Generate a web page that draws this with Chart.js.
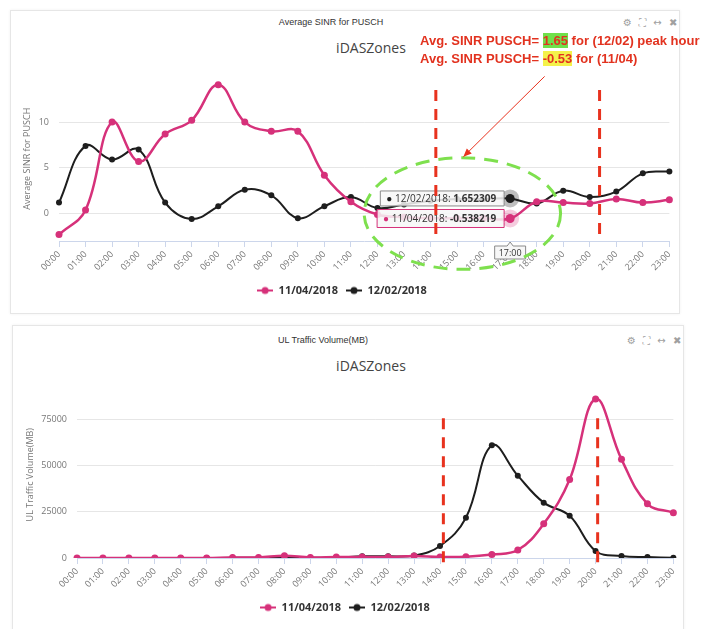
<!DOCTYPE html>
<html>
<head>
<meta charset="utf-8">
<script src="https://cdn.jsdelivr.net/npm/chart.js@4.4.1/dist/chart.umd.min.js"></script>
<style>
  body { margin: 0; background: #fff; font-family: "Open Sans", sans-serif; }
  .card { position: absolute; background: #fff; border: 1px solid #e6e6e6; box-shadow: 0 0 3px rgba(0,0,0,0.06); overflow: hidden; }
  .ttl { position: absolute; transform: translateX(-50%); font: 9px "Liberation Sans", Arial, sans-serif; color: #333; white-space: nowrap; }
  .sub { position: absolute; transform: translateX(-50%); font: 14px "Open Sans", sans-serif; color: #444; white-space: nowrap; }
  .icons { position: absolute; font: 10px "DejaVu Sans", sans-serif; color: #a0a0a0; letter-spacing: 2px; white-space: nowrap; }
  .card canvas { position: absolute; left: 0; }
  #note { position: absolute; left: 420px; top: 32px; font: bold 13px "Liberation Sans", Arial, sans-serif; color: #e2321f; line-height: 18px; white-space: nowrap; }
  #note .g { background: #6fe04a; }
  #note .y { background: #f4f24a; }
</style>
</head>
<body>

<div class="card" style="left:10px;top:10px;width:668px;height:302px;">
  <div class="ttl" style="left:320px;top:6px;">Average SINR for PUSCH</div>
  <div class="sub" style="left:360px;top:27px;">iDASZones</div>
  <div class="icons" style="left:612px;top:6px;">⚙ ⛶ ↔ ✖</div>
  <div style="position:absolute;left:0;top:50px;width:668px;height:245px;"><canvas id="sinrChart"></canvas></div>
</div>

<div class="card" style="left:12px;top:325px;width:670px;height:320px;">
  <div class="ttl" style="left:310px;top:9px;">UL Traffic Volume(MB)</div>
  <div class="sub" style="left:358px;top:30px;">iDASZones</div>
  <div class="icons" style="left:614px;top:9px;">⚙ ⛶ ↔ ✖</div>
  <div style="position:absolute;left:0;top:50px;width:670px;height:247px;"><canvas id="ulChart"></canvas></div>
</div>

<div id="note">
  Avg. SINR PUSCH= <span class="g">1.65</span> for (12/02) peak hour<br>
  Avg. SINR PUSCH= <span class="y">-0.53</span> for (11/04)
</div>

<script>
// hours of the day
const hours = ['00:00','01:00','02:00','03:00','04:00','05:00','06:00','07:00','08:00','09:00','10:00','11:00',
               '12:00','13:00','14:00','15:00','16:00','17:00','18:00','19:00','20:00','21:00','22:00','23:00'];

// Average SINR for PUSCH
const sinr1104 = [-2.3, 0.4, 10.0, 5.7, 8.7, 10.2, 14.1, 10.0, 9.0, 9.0, 4.2, 1.3,
                  -0.1, -0.4, -0.5, -0.5, -0.5, -0.538219, 1.3, 1.2, 1.1, 1.6, 1.2, 1.5];
const sinr1202 = [1.2, 7.4, 5.9, 7.0, 1.2, -0.6, 0.8, 2.6, 2.0, -0.5, 0.8, 1.8,
                  0.6, 1.0, 1.4, 1.6, 1.6, 1.652309, 1.1, 2.5, 1.8, 2.4, 4.4, 4.6];
const sinrTicks = [0, 5, 10];

// UL Traffic Volume (MB)
const ul1104 = [0, 0, 0, 0, 0, 0, 300, 300, 1200, 300, 500, 600,
                500, 1100, 600, 700, 1900, 4300, 18500, 42400, 85900, 53300, 29300, 24500];
const ul1202 = [0, 0, 0, 0, 0, 0, 100, 100, 300, 100, 200, 900,
                900, 1300, 6500, 21700, 60900, 44500, 29900, 22800, 3800, 1100, 500, 100];
const ulTicks = [0, 25000, 50000, 75000];

const PINK = '#d6317a';
const BLACK = '#1e1e1e';
const RED = '#e8321e';

Chart.defaults.font.family = '"Open Sans", sans-serif';

// legend symbol: short line with a dot
function legendIcon(color) {
  const c = document.createElement('canvas');
  c.width = 16; c.height = 10;
  const g = c.getContext('2d');
  g.strokeStyle = color; g.lineWidth = 2;
  g.beginPath(); g.moveTo(0, 5); g.lineTo(16, 5); g.stroke();
  g.fillStyle = color;
  g.beginPath(); g.arc(8, 5, 3.5, 0, Math.PI * 2); g.fill();
  return c;
}

function tipBox(ctx, left, top, w, h, border, tipX, tipY) {
  ctx.save();
  ctx.beginPath();
  ctx.moveTo(left, top);
  ctx.lineTo(left + w, top);
  ctx.lineTo(left + w, tipY - 4);
  ctx.lineTo(tipX, tipY);
  ctx.lineTo(left + w, tipY + 4);
  ctx.lineTo(left + w, top + h);
  ctx.lineTo(left, top + h);
  ctx.closePath();
  ctx.fillStyle = 'rgba(247,247,247,0.85)';
  ctx.fill();
  ctx.strokeStyle = border; ctx.lineWidth = 1;
  ctx.stroke();
  ctx.restore();
}

const marks = {
  id: 'marks',
  beforeDatasetsDraw(chart, args, o) {
    if (o.hover === undefined) return;
    const { ctx, scales: { x, y } } = chart;
    const i = o.hover;
    ctx.save();
    chart.data.datasets.forEach(ds => {
      const px = x.getPixelForValue(i), py = y.getPixelForValue(ds.data[i]);
      ctx.fillStyle = ds.borderColor === PINK ? 'rgba(214,49,122,0.25)' : 'rgba(0,0,0,0.25)';
      ctx.beginPath(); ctx.arc(px, py, 9, 0, Math.PI * 2); ctx.fill();
    });
    ctx.restore();
  },
  afterDatasetsDraw(chart, args, o) {
    const { ctx, chartArea, scales: { x, y } } = chart;
    ctx.save();

    // split tooltip at the hovered hour
    if (o.hover !== undefined) {
      const i = o.hover;
      const px = x.getPixelForValue(i);
      chart.data.datasets.slice().reverse().forEach((ds, k) => {
        const py = y.getPixelForValue(ds.data[i]);
        const name = ds.label + ': ';
        const val = String(ds.data[i]);
        ctx.font = '10px "Open Sans", sans-serif';
        const wName = ctx.measureText('● ' + name).width;
        ctx.font = 'bold 10px "Open Sans", sans-serif';
        const wVal = ctx.measureText(val).width;
        const w = wName + wVal + 14, h = k === 0 ? 15 : 18;
        const left = px - 6 - w;
        tipBox(ctx, left, py - h / 2, w, h, ds.borderColor === PINK ? PINK : '#8a8a8a', px - 6, py);
        ctx.textBaseline = 'middle';
        ctx.font = '10px "Open Sans", sans-serif';
        ctx.fillStyle = ds.borderColor;
        ctx.fillText('●', left + 6, py + 1);
        ctx.fillStyle = '#333';
        const wDot = ctx.measureText('● ').width;
        ctx.fillText(name, left + 6 + wDot, py + 1);
        ctx.font = 'bold 10px "Open Sans", sans-serif';
        ctx.fillText(val, left + 6 + wName, py + 1);
      });
      // hovered points
      chart.data.datasets.forEach(ds => {
        const py = y.getPixelForValue(ds.data[i]);
        ctx.fillStyle = ds.borderColor;
        ctx.beginPath(); ctx.arc(px, py, 4.5, 0, Math.PI * 2); ctx.fill();
      });
      // x label box
      ctx.font = '9px "Open Sans", sans-serif';
      const lab = chart.data.labels[i];
      const lw = ctx.measureText(lab).width + 8;
      const top = chartArea.bottom + 1;
      ctx.beginPath();
      ctx.moveTo(px - lw / 2, top + 4);
      ctx.lineTo(px - 3, top + 4); ctx.lineTo(px, top); ctx.lineTo(px + 3, top + 4);
      ctx.lineTo(px + lw / 2, top + 4); ctx.lineTo(px + lw / 2, top + 17);
      ctx.lineTo(px - lw / 2, top + 17); ctx.closePath();
      ctx.fillStyle = 'rgba(247,247,247,0.95)'; ctx.fill();
      ctx.strokeStyle = '#8a8a8a'; ctx.lineWidth = 1; ctx.stroke();
      ctx.fillStyle = '#333'; ctx.textAlign = 'center'; ctx.textBaseline = 'middle';
      ctx.fillText(lab, px, top + 11);
      ctx.textAlign = 'left';
    }

    // red dashed peak-hour lines
    ctx.strokeStyle = RED; ctx.lineWidth = 3; ctx.setLineDash([11, 8]);
    (o.vlines || []).forEach(h => {
      const px = x.getPixelForValue(h);
      ctx.beginPath();
      ctx.moveTo(px, y.getPixelForValue(o.vfrom));
      ctx.lineTo(px, y.getPixelForValue(o.vto));
      ctx.stroke();
    });

    // green dashed ellipse + arrow
    if (o.ellipse) {
      const e = o.ellipse;
      const cx = x.getPixelForValue(e.x), cy = y.getPixelForValue(e.y);
      const rx = x.getPixelForValue(e.x + e.rx) - cx;
      const ry = cy - y.getPixelForValue(e.y + e.ry);
      ctx.strokeStyle = '#7ee04e'; ctx.lineWidth = 3; ctx.setLineDash([14, 9]);
      ctx.beginPath(); ctx.ellipse(cx, cy, rx, ry, 0, 0, Math.PI * 2); ctx.stroke();
      ctx.setLineDash([]);
      const ax = x.getPixelForValue(o.arrowFrom), ay = chartArea.top;
      const tx = cx + 1, ty = cy - ry - 1;
      ctx.strokeStyle = RED; ctx.fillStyle = RED; ctx.lineWidth = 1;
      ctx.beginPath(); ctx.moveTo(ax, ay); ctx.lineTo(tx, ty); ctx.stroke();
      const ang = Math.atan2(ty - ay, tx - ax);
      ctx.beginPath();
      ctx.moveTo(tx, ty);
      ctx.lineTo(tx - 9 * Math.cos(ang - 0.4), ty - 9 * Math.sin(ang - 0.4));
      ctx.lineTo(tx - 9 * Math.cos(ang + 0.4), ty - 9 * Math.sin(ang + 0.4));
      ctx.closePath(); ctx.fill();
    }
    ctx.restore();
  }
};

function makeChart(id, d1104, d1202, opt) {
  return new Chart(document.getElementById(id), {
    type: 'line',
    data: {
      labels: hours,
      datasets: [
        { label: '11/04/2018', data: d1104, borderColor: PINK, backgroundColor: PINK,
          borderWidth: 2.5, tension: 0.4, pointRadius: 3.5, pointBackgroundColor: PINK, pointBorderWidth: 0 },
        { label: '12/02/2018', data: d1202, borderColor: BLACK, backgroundColor: BLACK,
          borderWidth: 2, tension: 0.4, pointRadius: 3, pointBackgroundColor: BLACK, pointBorderWidth: 0 }
      ]
    },
    options: {
      responsive: true,
      maintainAspectRatio: false,
      animation: false,
      events: [],
      layout: { padding: { top: opt.padTop, right: 6, left: 0, bottom: 0 } },
      scales: {
        x: {
          grid: { drawOnChartArea: false, color: '#ccd6eb', tickLength: 6 },
          border: { color: '#ccd6eb' },
          ticks: { color: '#777', font: { size: 9 }, minRotation: 45, maxRotation: 45, autoSkip: false, padding: 2 },
          afterFit: s => { s.height = 36; }
        },
        y: {
          min: opt.min, max: opt.max,
          afterBuildTicks: s => { s.ticks = opt.ticks.map(v => ({ value: v })); },
          afterFit: s => { s.width = opt.yWidth; },
          grid: { color: '#e6e6e6', drawTicks: false },
          border: { display: false },
          ticks: { color: '#777', font: { size: 9 }, padding: 10, callback: v => String(v) },
          title: { display: true, text: opt.yTitle, color: '#777', font: { size: 9 }, padding: { top: opt.titlePad, bottom: 0 } }
        }
      },
      plugins: {
        legend: {
          position: 'bottom',
          labels: {
            usePointStyle: true, pointStyleWidth: 16, color: '#333', font: { size: 11, weight: 'bold' }, padding: 8,
            generateLabels: chart => Chart.defaults.plugins.legend.labels.generateLabels(chart).map(item => {
              item.pointStyle = legendIcon(chart.data.datasets[item.datasetIndex].borderColor);
              return item;
            })
          }
        },
        tooltip: { enabled: false },
        marks: opt.marks
      }
    },
    plugins: [marks]
  });
}

makeChart('sinrChart', sinr1104, sinr1202, {
  min: -3, max: 15, ticks: sinrTicks, yWidth: 48, padTop: 11.5, titlePad: 11, yTitle: 'Average SINR for PUSCH',
  marks: { hover: 17, vlines: [14.2, 20.37], vfrom: 13.5, vto: -2.4,
           ellipse: { x: 15.2, y: 0, rx: 3.7, ry: 6.1 }, arrowFrom: 18.3 }
});

makeChart('ulChart', ul1104, ul1202, {
  min: 0, max: 90000, ticks: ulTicks, yWidth: 64, padTop: 15, titlePad: 12, yTitle: 'UL Traffic Volume(MB)',
  marks: { vlines: [14.13, 20.08], vfrom: 75500, vto: -3800 }
});
</script>
</body>
</html>
